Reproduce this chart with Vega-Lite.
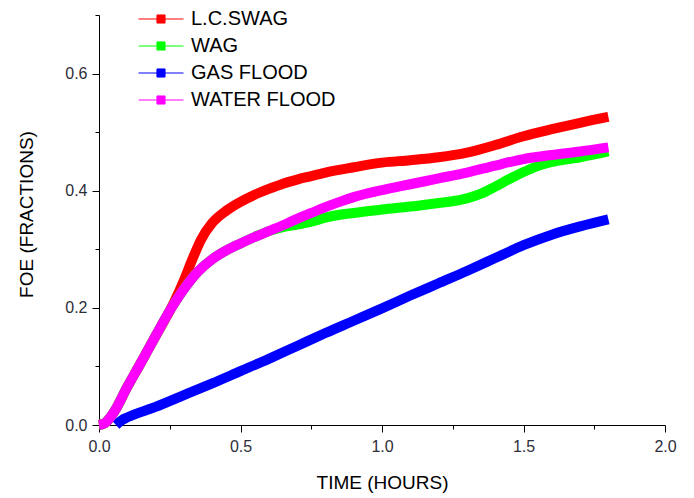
{
  "$schema": "https://vega.github.io/schema/vega-lite/v6.json",
  "width": 566,
  "height": 410,
  "autosize": {"type": "none"},
  "padding": {"left": 99, "top": 15, "right": 29, "bottom": 73},
  "background": "white",
  "config": {
    "view": {"stroke": null},
    "font": "Liberation Sans",
    "axis": {
      "domainColor": "#000000",
      "domainWidth": 1,
      "tickColor": "#000000",
      "tickWidth": 1,
      "labelColor": "#2e2e3a",
      "labelFont": "Liberation Sans",
      "labelFontSize": 16,
      "titleFont": "Liberation Sans",
      "titleFontSize": 19,
      "titleFontWeight": "normal",
      "titleColor": "#000000",
      "grid": false
    },
    "legend": {
      "padding": 0,
      "labelFont": "Liberation Sans",
      "labelFontSize": 20,
      "labelColor": "#000000"
    }
  },
  "datasets": {
    "foe": [
      {"series": "L.C.SWAG", "t": 0.0, "v": 0.0},
      {"series": "L.C.SWAG", "t": 0.02, "v": 0.003},
      {"series": "L.C.SWAG", "t": 0.05, "v": 0.02},
      {"series": "L.C.SWAG", "t": 0.1, "v": 0.065},
      {"series": "L.C.SWAG", "t": 0.15, "v": 0.108},
      {"series": "L.C.SWAG", "t": 0.2, "v": 0.152},
      {"series": "L.C.SWAG", "t": 0.25, "v": 0.195},
      {"series": "L.C.SWAG", "t": 0.28, "v": 0.225},
      {"series": "L.C.SWAG", "t": 0.3, "v": 0.247},
      {"series": "L.C.SWAG", "t": 0.33, "v": 0.283},
      {"series": "L.C.SWAG", "t": 0.36, "v": 0.316},
      {"series": "L.C.SWAG", "t": 0.4, "v": 0.345},
      {"series": "L.C.SWAG", "t": 0.45, "v": 0.366},
      {"series": "L.C.SWAG", "t": 0.5, "v": 0.381},
      {"series": "L.C.SWAG", "t": 0.55, "v": 0.393},
      {"series": "L.C.SWAG", "t": 0.6, "v": 0.403},
      {"series": "L.C.SWAG", "t": 0.65, "v": 0.412},
      {"series": "L.C.SWAG", "t": 0.7, "v": 0.419},
      {"series": "L.C.SWAG", "t": 0.75, "v": 0.425},
      {"series": "L.C.SWAG", "t": 0.8, "v": 0.431},
      {"series": "L.C.SWAG", "t": 0.9, "v": 0.44},
      {"series": "L.C.SWAG", "t": 1.0, "v": 0.448},
      {"series": "L.C.SWAG", "t": 1.1, "v": 0.452},
      {"series": "L.C.SWAG", "t": 1.2, "v": 0.457},
      {"series": "L.C.SWAG", "t": 1.3, "v": 0.465},
      {"series": "L.C.SWAG", "t": 1.4, "v": 0.478},
      {"series": "L.C.SWAG", "t": 1.5, "v": 0.493},
      {"series": "L.C.SWAG", "t": 1.6, "v": 0.505},
      {"series": "L.C.SWAG", "t": 1.7, "v": 0.516},
      {"series": "L.C.SWAG", "t": 1.8, "v": 0.526},

      {"series": "WAG", "t": 0.0, "v": 0.0},
      {"series": "WAG", "t": 0.02, "v": 0.003},
      {"series": "WAG", "t": 0.05, "v": 0.02},
      {"series": "WAG", "t": 0.1, "v": 0.065},
      {"series": "WAG", "t": 0.15, "v": 0.108},
      {"series": "WAG", "t": 0.2, "v": 0.152},
      {"series": "WAG", "t": 0.25, "v": 0.195},
      {"series": "WAG", "t": 0.3, "v": 0.232},
      {"series": "WAG", "t": 0.35, "v": 0.262},
      {"series": "WAG", "t": 0.4, "v": 0.283},
      {"series": "WAG", "t": 0.45, "v": 0.298},
      {"series": "WAG", "t": 0.5, "v": 0.31},
      {"series": "WAG", "t": 0.55, "v": 0.321},
      {"series": "WAG", "t": 0.6, "v": 0.331},
      {"series": "WAG", "t": 0.65, "v": 0.338},
      {"series": "WAG", "t": 0.7, "v": 0.342},
      {"series": "WAG", "t": 0.75, "v": 0.347},
      {"series": "WAG", "t": 0.8, "v": 0.354},
      {"series": "WAG", "t": 0.85, "v": 0.359},
      {"series": "WAG", "t": 0.9, "v": 0.362},
      {"series": "WAG", "t": 1.0, "v": 0.368},
      {"series": "WAG", "t": 1.1, "v": 0.373},
      {"series": "WAG", "t": 1.2, "v": 0.379},
      {"series": "WAG", "t": 1.25, "v": 0.382},
      {"series": "WAG", "t": 1.3, "v": 0.387},
      {"series": "WAG", "t": 1.35, "v": 0.395},
      {"series": "WAG", "t": 1.4, "v": 0.407},
      {"series": "WAG", "t": 1.45, "v": 0.42},
      {"series": "WAG", "t": 1.5, "v": 0.432},
      {"series": "WAG", "t": 1.55, "v": 0.442},
      {"series": "WAG", "t": 1.6, "v": 0.449},
      {"series": "WAG", "t": 1.7, "v": 0.457},
      {"series": "WAG", "t": 1.8, "v": 0.467},

      {"series": "GAS FLOOD", "t": 0.06, "v": 0.0},
      {"series": "GAS FLOOD", "t": 0.08, "v": 0.008},
      {"series": "GAS FLOOD", "t": 0.1, "v": 0.013},
      {"series": "GAS FLOOD", "t": 0.2, "v": 0.031},
      {"series": "GAS FLOOD", "t": 0.3, "v": 0.051},
      {"series": "GAS FLOOD", "t": 0.4, "v": 0.071},
      {"series": "GAS FLOOD", "t": 0.5, "v": 0.092},
      {"series": "GAS FLOOD", "t": 0.6, "v": 0.113},
      {"series": "GAS FLOOD", "t": 0.7, "v": 0.135},
      {"series": "GAS FLOOD", "t": 0.8, "v": 0.157},
      {"series": "GAS FLOOD", "t": 0.9, "v": 0.178},
      {"series": "GAS FLOOD", "t": 1.0, "v": 0.199},
      {"series": "GAS FLOOD", "t": 1.1, "v": 0.221},
      {"series": "GAS FLOOD", "t": 1.2, "v": 0.242},
      {"series": "GAS FLOOD", "t": 1.3, "v": 0.263},
      {"series": "GAS FLOOD", "t": 1.4, "v": 0.285},
      {"series": "GAS FLOOD", "t": 1.5, "v": 0.307},
      {"series": "GAS FLOOD", "t": 1.6, "v": 0.325},
      {"series": "GAS FLOOD", "t": 1.7, "v": 0.339},
      {"series": "GAS FLOOD", "t": 1.8, "v": 0.351},

      {"series": "WATER FLOOD", "t": 0.0, "v": 0.0},
      {"series": "WATER FLOOD", "t": 0.02, "v": 0.003},
      {"series": "WATER FLOOD", "t": 0.05, "v": 0.02},
      {"series": "WATER FLOOD", "t": 0.1, "v": 0.065},
      {"series": "WATER FLOOD", "t": 0.15, "v": 0.108},
      {"series": "WATER FLOOD", "t": 0.2, "v": 0.152},
      {"series": "WATER FLOOD", "t": 0.25, "v": 0.195},
      {"series": "WATER FLOOD", "t": 0.3, "v": 0.232},
      {"series": "WATER FLOOD", "t": 0.35, "v": 0.262},
      {"series": "WATER FLOOD", "t": 0.4, "v": 0.283},
      {"series": "WATER FLOOD", "t": 0.45, "v": 0.298},
      {"series": "WATER FLOOD", "t": 0.5, "v": 0.31},
      {"series": "WATER FLOOD", "t": 0.55, "v": 0.321},
      {"series": "WATER FLOOD", "t": 0.6, "v": 0.331},
      {"series": "WATER FLOOD", "t": 0.65, "v": 0.341},
      {"series": "WATER FLOOD", "t": 0.7, "v": 0.352},
      {"series": "WATER FLOOD", "t": 0.75, "v": 0.362},
      {"series": "WATER FLOOD", "t": 0.8, "v": 0.372},
      {"series": "WATER FLOOD", "t": 0.85, "v": 0.381},
      {"series": "WATER FLOOD", "t": 0.9, "v": 0.389},
      {"series": "WATER FLOOD", "t": 1.0, "v": 0.401},
      {"series": "WATER FLOOD", "t": 1.1, "v": 0.411},
      {"series": "WATER FLOOD", "t": 1.2, "v": 0.421},
      {"series": "WATER FLOOD", "t": 1.3, "v": 0.431},
      {"series": "WATER FLOOD", "t": 1.4, "v": 0.443},
      {"series": "WATER FLOOD", "t": 1.5, "v": 0.454},
      {"series": "WATER FLOOD", "t": 1.6, "v": 0.461},
      {"series": "WATER FLOOD", "t": 1.7, "v": 0.467},
      {"series": "WATER FLOOD", "t": 1.8, "v": 0.474}
    ]
  },
  "data": {"name": "foe"},
  "encoding": {
    "x": {
      "field": "t",
      "type": "quantitative",
      "scale": {"domain": [0, 2], "nice": false, "zero": false},
      "axis": {
        "title": "TIME (HOURS)",
        "values": [0, 0.25, 0.5, 0.75, 1, 1.25, 1.5, 1.75, 2],
        "labelExpr": "round(datum.value*4)%2==1 ? '' : format(datum.value, '.1f')",
        "tickSize": {"condition": {"test": "round(datum.value*4)%2==1", "value": 4}, "value": 7},
        "labelPadding": 6,
        "labelFlush": false,
        "titleX": 283,
        "titleY": 57,
        "titleAlign": "center",
        "titleBaseline": "middle"
      }
    },
    "y": {
      "field": "v",
      "type": "quantitative",
      "scale": {"domain": [0, 0.7], "nice": false},
      "axis": {
        "title": "FOE (FRACTIONS)",
        "values": [0, 0.1, 0.2, 0.3, 0.4, 0.5, 0.6, 0.7],
        "labelExpr": "round(datum.value*10)%2==1 ? '' : format(datum.value, '.1f')",
        "tickSize": {"condition": {"test": "round(datum.value*10)%2==1", "value": 4}, "value": 7},
        "labelPadding": 5,
        "labelFlush": false,
        "titleX": -73,
        "titleY": 199,
        "titleAngle": 270,
        "titleAlign": "center",
        "titleBaseline": "middle"
      }
    },
    "color": {
      "field": "series",
      "type": "nominal",
      "scale": {
        "domain": ["L.C.SWAG", "WAG", "GAS FLOOD", "WATER FLOOD"],
        "range": ["#ff0000", "#00ff00", "#0000ff", "#ff00ff"]
      },
      "legend": {
        "title": null,
        "orient": "none",
        "legendX": 50,
        "legendY": -8,
        "symbolType": "M-2,0H2M-0.36,-0.36H0.36V0.36H-0.36Z",
        "symbolSize": 506,
        "symbolStrokeWidth": 1,
        "symbolOpacity": 1,
        "labelOffset": 18,
        "rowPadding": 5,
        "encode": {
          "symbols": {
            "update": {
              "fill": {"scale": "color", "field": "value"},
              "fillOpacity": {"value": 1}
            }
          }
        }
      }
    }
  },
  "layer": [
    {"transform": [{"filter": "datum.series == 'L.C.SWAG'"}], "mark": {"type": "line", "interpolate": "monotone", "strokeWidth": 10, "strokeCap": "butt", "strokeJoin": "round"}},
    {"transform": [{"filter": "datum.series == 'WAG'"}], "mark": {"type": "line", "interpolate": "monotone", "strokeWidth": 10, "strokeCap": "butt", "strokeJoin": "round"}},
    {"transform": [{"filter": "datum.series == 'GAS FLOOD'"}], "mark": {"type": "line", "interpolate": "monotone", "strokeWidth": 10, "strokeCap": "butt", "strokeJoin": "round"}},
    {"transform": [{"filter": "datum.series == 'WATER FLOOD'"}], "mark": {"type": "line", "interpolate": "monotone", "strokeWidth": 10, "strokeCap": "butt", "strokeJoin": "round"}}
  ]
}
